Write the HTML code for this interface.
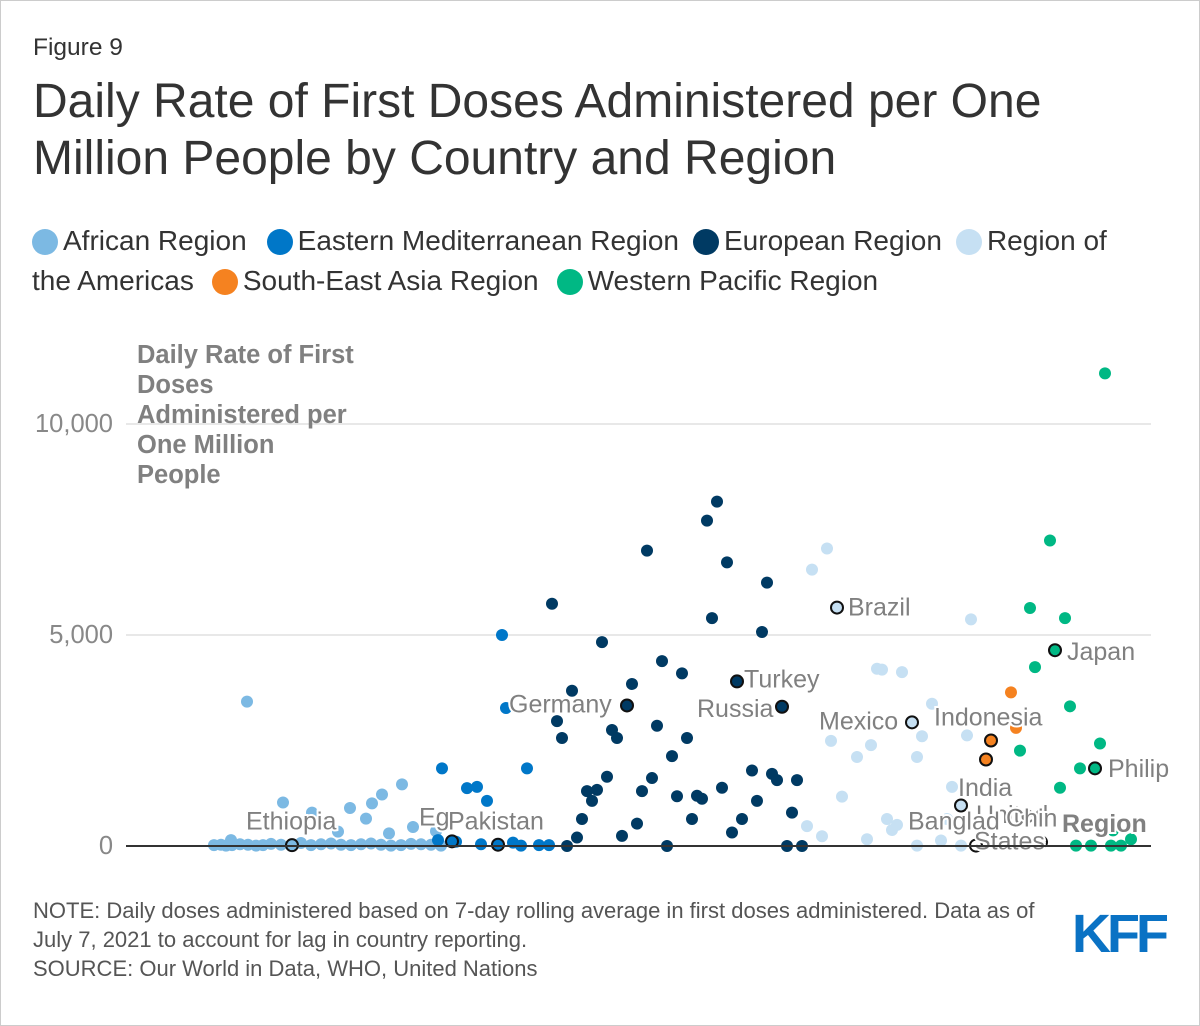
<!DOCTYPE html>
<html><head><meta charset="utf-8"><style>
body{margin:0;background:#fff;font-family:"Liberation Sans",Arial,sans-serif;}
#wrap{position:relative;width:1198px;height:1024px;border:1px solid #ccc;overflow:hidden;}
.t{position:absolute;white-space:nowrap;}
.lg{display:inline-block;width:26px;height:26px;border-radius:50%;vertical-align:-5px;margin-right:5px;}
</style></head><body>
<div id="wrap">
<div class="t" style="left:32px;top:33px;font-size:24.5px;color:#333;">Figure 9</div>
<div class="t" style="left:32px;top:72px;font-size:48px;line-height:57px;color:#333;">Daily Rate of First Doses Administered per One<br>Million People by Country and Region</div>
<div class="t" style="left:31px;top:220px;font-size:28px;line-height:40px;color:#333;white-space:normal;width:1108px;">
<span style="margin-right:16px;"><span class="lg" style="background:#7cb9e3"></span>African Region</span><span style="margin-right:10px;margin-left:4px"><span class="lg" style="background:#0077c8"></span>Eastern Mediterranean Region</span><span style="margin-right:10px;margin-left:4px"><span class="lg" style="background:#003a63"></span>European Region</span><span style="margin-left:4px"><span class="lg" style="background:#c6e0f3"></span>Region of the Americas</span><span style="margin-left:18px"><span class="lg" style="background:#f58220"></span>South-East Asia Region</span><span style="margin-left:18px"><span class="lg" style="background:#00b884"></span>Western Pacific Region</span>
</div>
<svg id="chart" width="1198" height="900" style="position:absolute;left:0;top:0;"></svg>
<div class="t" style="left:136px;top:339px;font-size:25.5px;line-height:30px;font-weight:bold;color:#808080;">Daily Rate of First<br>Doses<br>Administered per<br>One Million<br>People</div>
<div class="t" style="left:32px;top:895px;font-size:22px;line-height:29px;color:#555;">NOTE: Daily doses administered based on 7-day rolling average in first doses administered. Data as of<br>July 7, 2021 to account for lag in country reporting.<br>SOURCE: Our World in Data, WHO, United Nations</div>
<div class="t" style="left:1071px;top:902px;font-size:54px;font-weight:bold;color:#0a72c4;letter-spacing:-4px;">KFF</div>
</div>
<script>
const regionColors=["#7cb9e3","#0077c8","#003a63","#c6e0f3","#f58220","#00b884"];
const regionNames=["african","eastern-mediterranean","european","americas","south-east-asia","western-pacific"];
const yTicks=[0,5000,10000];
const yTickLabels=["0","5,000","10,000"];
// position (0-100 unitless ordering), daily rate per million
const afrX=[11.6,8.3,9,9.5,10.1,10.9,11.7,12.5,13.2,14,15,16,17,18,19,20,21,22,23,24,25,26,27,28,29,30,31,15.2,18.1,27.1,24.1,21.9,25.1,28.2,23.5,20.7,25.8,10,30.5];
const afrY=[3420,20,30,10,20,40,30,10,20,50,30,10,70,20,40,60,30,20,40,60,30,10,20,50,40,30,10,1030,790,1460,1010,900,1220,450,650,340,300,140,350];
const emrX=[37.1,37.5,31.1,39.6,33.6,34.6,35.6,30.7,35,36.7,38.2,39,40.8,41.8,32.5];
const emrY=[5000,3270,1840,1840,1370,1400,1070,140,40,40,80,10,20,20,100];
const eurX=[58.6,57.6,51.6,59.6,42.1,63.6,58.1,63.1,47.1,53.1,55.1,60.6,44.1,50.1,49.6,65.1,42.6,43.1,48.1,48.6,55.6,52.6,54.1,62.1,64.1,64.6,66.6,47.6,52.1,45.6,46.6,46.1,51.1,54.6,56.6,57.1,59.1,62.6,45.1,56.1,61.1,66.1,44.6,49.1,50.6,60.1,43.6,53.6,65.6,67.1];
const eurY=[8160,7710,7000,6720,5740,6240,5400,5070,4830,4380,4090,3900,3680,3840,3330,3300,2960,2560,2750,2560,2560,2850,2130,1790,1710,1560,1560,1640,1610,1300,1330,1070,1300,1180,1190,1120,1380,1070,640,640,640,790,200,240,530,320,0,0,0,0];
const amrX=[69.6,68.1,70.6,84,74.6,75.1,77.1,78.1,80.1,70,74,72.6,78.6,79.1,83.6,71.1,82.1,67.6,69.1,73.6,75.6,76.1,76.6,81.6,78.6,81,83,84.5,83];
const amrY=[7050,6550,5650,5370,4200,4180,4120,2930,3370,2490,2390,2110,2110,2600,2620,1170,1400,470,230,160,640,380,500,640,10,130,10,10,960];
const searX=[88,86,85.5,88.5];
const searY=[3640,2500,2050,2800];
const wprX=[97.4,91.9,89.9,93.4,92.4,90.4,93.9,96.9,88.9,94.9,96.4,92.9,91,94.5,96,98,99,100,98.2];
const wprY=[11200,7240,5640,5400,4640,4240,3310,2430,2260,1840,1840,1380,90,10,10,10,10,160,370];
const outlined=[[1,16.1,20,"#7cb9e3"],[1,32.1,110,"#0077c8"],[1,36.7,30,"#0077c8"],[2,49.6,3330,"#003a63"],[2,60.6,3900,"#003a63"],[2,65.1,3300,"#003a63"],[3,70.6,5650,"#c6e0f3"],[3,78.1,2930,"#c6e0f3"],[3,83,960,"#c6e0f3"],[3,84.5,10,"#fff"],[4,86,2500,"#f58220"],[4,85.5,2050,"#f58220"],[5,92.4,4640,"#00b884"],[5,96.4,1840,"#00b884"],[5,91,90,"#fff"]];
const labelNames=["Ethiopia","Eg","Pakistan","Germany","Turkey","Russia","Brazil","Mexico","Indonesia","India","United","States","Banglad","Chin","Japan","Philip"];
const labelX=[11.5,28.8,31.7,37.8,61.3,56.6,71.7,68.8,80.3,82.7,84.5,84.3,77.7,87.5,93.6,97.7];
const labelY=[580,680,580,3350,3950,3250,5650,2950,3050,1380,740,110,580,650,4600,1820];
const ns="http://www.w3.org/2000/svg";
const svg=document.getElementById("chart");
const xs=v=>130+v*10;
const ys=v=>845-v*0.0422;
function mk(t,a){const e=document.createElementNS(ns,t);for(const k in a)e.setAttribute(k,a[k]);svg.appendChild(e);return e;}
yTicks.forEach((t,i)=>{
  if(t>0){const g=mk("line",{x1:125,x2:1150,y1:ys(t),y2:ys(t),stroke:"#e0e0e0","stroke-width":1.5});
  
  }
  const l=mk("text",{x:112,y:ys(t)+8,"text-anchor":"end","font-size":25.5,fill:"#888","font-family":"Liberation Sans, sans-serif"});
  l.textContent=yTickLabels[i];
  
  
});
const sets=[[afrX,afrY],[emrX,emrY],[eurX,eurY],[amrX,amrY],[searX,searY],[wprX,wprY]];
sets.forEach((s,r)=>{
  s[0].forEach((x,i)=>{
    const c=mk("circle",{cx:xs(x),cy:ys(s[1][i]),r:6,fill:regionColors[r]});
    
    
  });
});
outlined.forEach(o=>{
  const c=mk("circle",{cx:xs(o[1]),cy:ys(o[2]),r:6,fill:o[3],stroke:"#111","stroke-width":2});
  
  
});
labelNames.forEach((n,i)=>{
  const t=mk("text",{x:xs(labelX[i]),y:ys(labelY[i])+8,"font-size":25,fill:"#808080",stroke:"#fff","stroke-width":4,"paint-order":"stroke","font-family":"Liberation Sans, sans-serif"});
  t.textContent=n;
  
  
});
const rg=mk("text",{x:1061,y:831,"font-size":25,"font-weight":"bold",fill:"#808080",stroke:"#fff","stroke-width":4,"paint-order":"stroke","font-family":"Liberation Sans, sans-serif"});
rg.textContent="Region";


const ax=mk("line",{x1:125,x2:1150,y1:845,y2:845,stroke:"#333","stroke-width":2});


</script>
</body></html>
